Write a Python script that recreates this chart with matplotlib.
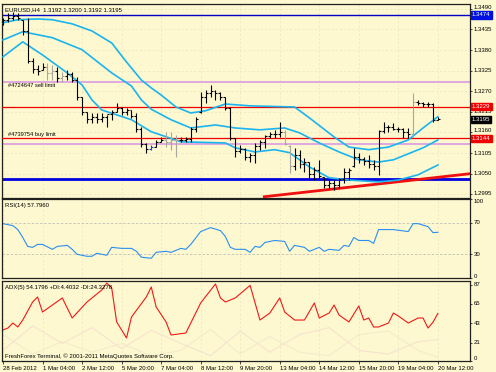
import numpy as np
import matplotlib.pyplot as plt
from matplotlib.transforms import blended_transform_factory, offset_copy

plt.rcParams['font.family'] = ['Liberation Sans', 'DejaVu Sans']

# EURUSD H4 bars, bar 0 = 28 Feb 2012 20:00, one bar every 4 hours
highs = [1.3466, 1.3479, 1.3482, 1.3479, 1.3461, 1.3466, 1.3359, 1.3340, 1.3346, 1.3346,
         1.3340, 1.3335, 1.3322, 1.3327, 1.3322, 1.3308, 1.3255, 1.3215, 1.3212, 1.3212,
         1.3212, 1.3207, 1.3220, 1.3239, 1.3228, 1.3226, 1.3220, 1.3212, 1.3175, 1.3132,
         1.3127, 1.3140, 1.3148, 1.3162, 1.3162, 1.3154, 1.3148, 1.3148, 1.3175, 1.3202,
         1.3268, 1.3274, 1.3287, 1.3274, 1.3268, 1.3255, 1.3228, 1.3146, 1.3127, 1.3119,
         1.3106, 1.3132, 1.3140, 1.3154, 1.3162, 1.3167, 1.3188, 1.3167, 1.3127, 1.3119,
         1.3114, 1.3092, 1.3081, 1.3068, 1.3087, 1.3041, 1.3033, 1.3033, 1.3039, 1.3065,
         1.3065, 1.3119, 1.3106, 1.3095, 1.3100, 1.3087, 1.3167, 1.3188, 1.3180, 1.3186,
         1.3175, 1.3172, 1.3172, 1.3266, 1.3247, 1.3242, 1.3242, 1.3239, 1.3200]
lows = [1.3447, 1.3455, 1.3461, 1.3461, 1.3421, 1.3346, 1.3319, 1.3314, 1.3327, 1.3300,
        1.3300, 1.3295, 1.3295, 1.3300, 1.3295, 1.3247, 1.3207, 1.3186, 1.3186, 1.3186,
        1.3188, 1.3175, 1.3194, 1.3215, 1.3207, 1.3207, 1.3199, 1.3162, 1.3121, 1.3106,
        1.3114, 1.3121, 1.3135, 1.3121, 1.3114, 1.3095, 1.3135, 1.3135, 1.3135, 1.3162,
        1.3212, 1.3239, 1.3255, 1.3247, 1.3247, 1.3220, 1.3140, 1.3095, 1.3106, 1.3087,
        1.3081, 1.3079, 1.3114, 1.3119, 1.3146, 1.3146, 1.3148, 1.3127, 1.3052, 1.3060,
        1.3065, 1.3055, 1.3039, 1.3033, 1.3039, 1.3012, 1.3012, 1.3007, 1.3012, 1.3025,
        1.3033, 1.3068, 1.3079, 1.3073, 1.3065, 1.3060, 1.3047, 1.3159, 1.3162, 1.3167,
        1.3162, 1.3146, 1.3146, 1.3148, 1.3234, 1.3228, 1.3228, 1.3188, 1.3192]
opens = [1.3455, 1.3460, 1.3465, 1.3470, 1.3460, 1.3430, 1.3350, 1.3330, 1.3328, 1.3335,
         1.3320, 1.3325, 1.3305, 1.3310, 1.3315, 1.3300, 1.3255, 1.3215, 1.3195, 1.3200,
         1.3195, 1.3200, 1.3210, 1.3215, 1.3225, 1.3215, 1.3220, 1.3205, 1.3170, 1.3130,
         1.3115, 1.3122, 1.3135, 1.3140, 1.3135, 1.3140, 1.3140, 1.3140, 1.3142, 1.3170,
         1.3215, 1.3255, 1.3265, 1.3270, 1.3265, 1.3255, 1.3225, 1.3145, 1.3110, 1.3115,
         1.3095, 1.3100, 1.3125, 1.3135, 1.3150, 1.3155, 1.3155, 1.3160, 1.3125, 1.3070,
         1.3100, 1.3075, 1.3080, 1.3050, 1.3060, 1.3040, 1.3020, 1.3025, 1.3020, 1.3035,
         1.3055, 1.3070, 1.3095, 1.3090, 1.3085, 1.3075, 1.3070, 1.3165, 1.3175, 1.3175,
         1.3170, 1.3168, 1.3160, 1.3155, 1.3240, 1.3238, 1.3235, 1.3235, 1.3192]
closes = [1.3460, 1.3465, 1.3470, 1.3465, 1.3430, 1.3350, 1.3330, 1.3325, 1.3335, 1.3320,
          1.3325, 1.3305, 1.3310, 1.3315, 1.3300, 1.3255, 1.3215, 1.3195, 1.3200, 1.3195,
          1.3200, 1.3210, 1.3215, 1.3225, 1.3215, 1.3220, 1.3205, 1.3170, 1.3130, 1.3115,
          1.3120, 1.3135, 1.3140, 1.3135, 1.3140, 1.3140, 1.3140, 1.3142, 1.3170, 1.3195,
          1.3255, 1.3265, 1.3270, 1.3265, 1.3255, 1.3225, 1.3145, 1.3110, 1.3115, 1.3095,
          1.3100, 1.3125, 1.3135, 1.3150, 1.3155, 1.3155, 1.3160, 1.3130, 1.3070, 1.3100,
          1.3075, 1.3080, 1.3050, 1.3060, 1.3045, 1.3020, 1.3025, 1.3020, 1.3035, 1.3055,
          1.3060, 1.3095, 1.3090, 1.3085, 1.3075, 1.3070, 1.3165, 1.3175, 1.3175, 1.3170,
          1.3168, 1.3160, 1.3155, 1.3240, 1.3238, 1.3235, 1.3235, 1.3192, 1.3195]
grey_bars = [9, 10, 12, 33, 34, 35, 57, 58, 83]
blue_bars = [30]

# channel lines (bar index, price)
upper_idx = [0, 3, 7, 10, 14, 18, 22, 25, 28, 30, 32, 35, 38, 41, 45, 50, 59, 62, 67, 70, 74, 78, 82, 85, 88]
upper_val = [1.3453, 1.3461, 1.3463, 1.3461, 1.3450, 1.3431, 1.3399, 1.3348, 1.3300, 1.3279,
             1.3260, 1.3228, 1.3212, 1.3218, 1.3236, 1.3231, 1.3228, 1.3199, 1.3148, 1.3121,
             1.3114, 1.3121, 1.3140, 1.3172, 1.3202]
mid_idx = [0, 4, 10, 16, 22, 26, 28, 30, 34, 38, 43, 47, 52, 57, 60, 64, 68, 72, 76, 79, 82, 85, 88]
mid_val = [1.3407, 1.3429, 1.3413, 1.3381, 1.3319, 1.3284, 1.3247, 1.3222, 1.3194, 1.3172,
           1.3180, 1.3172, 1.3167, 1.3172, 1.3159, 1.3132, 1.3108, 1.3087, 1.3081, 1.3087,
           1.3103, 1.3119, 1.3140]
lower_idx = [0, 4, 8, 13, 16, 18, 20, 23, 26, 30, 36, 45, 47, 51, 55, 58, 62, 66, 70, 76, 80, 84, 88]
lower_val = [1.3362, 1.3402, 1.3367, 1.3319, 1.3287, 1.3247, 1.3220, 1.3207, 1.3194, 1.3162,
             1.3135, 1.3132, 1.3119, 1.3108, 1.3114, 1.3106, 1.3068, 1.3039, 1.3033, 1.3028,
             1.3033, 1.3047, 1.3073]

# horizontal levels and trend line
blue_top = 1.3474
blue_bottom = 1.3036
red_levels = [1.3229, 1.3144]
pink_levels = [1.3295, 1.3129]
trend_idx = [52.6, 94.6]
trend_val = [1.2988, 1.3050]
last_price = 1.3195

# RSI(14)
rsi_idx = [0, 2, 3, 4, 5, 6, 7, 8, 10, 11, 13, 14, 15, 17, 18, 19, 20, 21, 22, 24,
           26, 27, 28, 30, 31, 33, 34, 36, 37, 38, 40, 42, 44, 45, 46, 47, 49, 50, 51, 52,
           53, 55, 57, 58, 59, 61, 62, 64, 65, 66, 68, 69, 70, 71, 72, 74, 75, 76, 77, 79,
           82, 83, 84, 86, 87, 88]
rsi_val = [68.8, 66.3, 61.3, 51.3, 40, 38.8, 42.5, 42.5, 36.3, 40, 41.3, 36.3, 30, 27.5, 27.5,
           31.3, 30, 28.8, 38.8, 37.5, 37.5, 33.8, 26.3, 25, 32.5, 33.8, 32.5, 37.5, 36.3, 42.5,
           58.8, 63.8, 60, 52.5, 38.8, 36.3, 36.3, 32.5, 40, 38.8, 45, 47.5, 46.3, 33.8, 41.3,
           38.8, 33.8, 38.8, 33.8, 36.3, 35, 41.3, 40, 51.3, 47.5, 47.5, 43.8, 61.3, 61.3, 61.3,
           58.8, 68.8, 68.8, 65, 57.5, 57.8]

# ADX(5)
adx_idx = [0, 1, 2, 3, 4, 6, 7, 8, 10, 12, 14, 17, 20, 21, 22, 23, 25, 26, 29, 30,
           31, 33, 34, 37, 40, 43, 44, 45, 47, 50, 52, 54, 56, 57, 59, 61, 63, 64, 66, 67,
           68, 70, 72, 73, 74, 75, 76, 78, 79, 80, 82, 84, 85, 86, 87, 88]
adx_val = [35.3, 37.5, 43.2, 38.7, 46.6, 67.1, 72.8, 55.7, 63.7, 71.7, 48.9, 67.1, 80.8, 88.7,
           83.0, 44.4, 26.2, 50.0, 72.8, 84.2, 61.4, 44.4, 29.6, 31.8, 66.0, 87.6, 71.7, 67.1,
           71.7, 86.0, 46.6, 54.6, 71.7, 55.7, 46.6, 46.6, 66.0, 48.9, 54.6, 63.7, 52.3, 44.4,
           62.6, 46.6, 48.9, 38.7, 38.7, 43.2, 54.6, 51.2, 43.2, 48.9, 48.9, 37.5, 44.0, 54.2]
di_idx = [0, 6, 12, 18, 24, 30, 36, 42, 48, 54, 60, 66, 72, 78, 84, 88]
plus_di = [30, 8, 22, 10, 20, 6, 12, 36, 8, 28, 10, 6, 30, 34, 12, 4.4]
minus_di = [12, 40, 20, 38, 14, 35, 20, 6, 34, 10, 30, 38, 12, 8, 22, 24.3]

date_idx = [0, 8, 16, 24, 32, 40, 48, 56, 64, 72, 80, 88]
date_labels = ['28 Feb 2012', '1 Mar 04:00', '2 Mar 12:00', '5 Mar 20:00', '7 Mar 04:00',
               '8 Mar 12:00', '9 Mar 20:00', '13 Mar 04:00', '14 Mar 12:00', '15 Mar 20:00',
               '19 Mar 04:00', '20 Mar 12:00']
price_ticks = [1.3490, 1.3435, 1.3380, 1.3325, 1.3270, 1.3215, 1.3160, 1.3105, 1.3050, 1.2995]
rsi_ticks = [0, 30, 70, 100]
adx_ticks = [0, 21, 43, 65, 87]

bg = '#fdf8cf'
band_color = '#1ab4ee'
fs = 4.3

W, H = 496, 372
fig = plt.figure(figsize=(W / 100, H / 100), dpi=100)
fig.patch.set_facecolor(bg)


def panel(top, bottom):
    a = fig.add_axes([2 / W, 1 - bottom / H, 468 / W, (bottom - top) / H])
    a.set_facecolor(bg)
    a.set_xlim(-0.2, 94.5)
    for s in a.spines.values():
        s.set_color('#202020')
        s.set_linewidth(0.9)
    a.yaxis.tick_right()
    a.tick_params(axis='y', length=1.5, width=0.5, labelright=False)
    a.set_xticks(date_idx)
    a.tick_params(axis='x', length=0)
    a.set_xticklabels([])
    a.grid(True, color='#ebe3bd', linestyle=(0, (3, 3)), linewidth=0.5)
    a.set_axisbelow(True)
    return a


def right_labels(a, ticks, fmt, nudge=None):
    # axis labels drawn by hand so a few can be nudged away from the price tags
    a.set_yticks(ticks)
    tr = blended_transform_factory(a.transAxes, a.transData)
    for t in ticks:
        dy = (nudge or {}).get(t, 0)
        a.text(1.008, t, fmt % t, fontsize=fs, va='center', ha='left', clip_on=False,
               transform=offset_copy(tr, fig=fig, y=dy, units='dots'))


ax = panel(4, 198)
ax_rsi = panel(199, 278)
ax_adx = panel(281, 361)

# ---- main price panel
ax.set_ylim(1.2985, 1.3503)
right_labels(ax, price_ticks, '%.4f', {1.3490: 1.5, 1.3160: 1.5, 1.2995: 1})

ax.axhline(blue_top, color='#0000c8', lw=1.0, zorder=2)
ax.axhline(blue_bottom, color='#0000e0', lw=2.0, zorder=2)
for lv in pink_levels:
    ax.axhline(lv, color='#e0a8e0', lw=1.4, zorder=2)
for lv in red_levels:
    ax.axhline(lv, color='#f00000', lw=0.9, zorder=3)
ax.plot(trend_idx, trend_val, color='#f01010', lw=2.0, zorder=3, solid_capstyle='butt')

ax.plot(upper_idx, upper_val, color=band_color, lw=1.2, zorder=4)
ax.plot(mid_idx, mid_val, color=band_color, lw=1.2, zorder=4)
ax.plot(lower_idx, lower_val, color=band_color, lw=1.2, zorder=4)

x = np.arange(len(highs))
cols = ['black'] * len(x)
for i in grey_bars:
    cols[i] = '#a8a8a0'
for i in blue_bars:
    cols[i] = '#2040e0'
ax.vlines(x, lows, highs, colors=cols, lw=0.8, zorder=5)
ax.hlines(opens, x - 0.4, x, colors=cols, lw=0.8, zorder=5)
ax.hlines(closes, x, x + 0.4, colors=cols, lw=0.8, zorder=5)

ax.text(0.006, 0.985, 'EURUSD,H4  1.3192 1.3200 1.3192 1.3195', transform=ax.transAxes,
        fontsize=fs, va='top', ha='left')
ax.text(1.0, pink_levels[0] - 0.0003, '#4724647 sell limit', fontsize=fs * 0.95, va='top', ha='left')
ax.text(1.0, red_levels[1] + 0.0003, '#4739754 buy limit', fontsize=fs * 0.95, va='bottom', ha='left')

tr = blended_transform_factory(ax.transAxes, ax.transData)
tags = [(blue_top, '#0010e0'), (red_levels[0], '#f00000'), (last_price, 'black'), (red_levels[1], '#f00000')]
for val, c in tags:
    ax.text(1.004, val, '%.4f' % val, transform=tr, fontsize=fs, color='white', va='center', ha='left',
            bbox=dict(boxstyle='square,pad=0.2', fc=c, ec=c), zorder=10, clip_on=False)

# ---- RSI panel
ax_rsi.set_ylim(0, 100)
right_labels(ax_rsi, rsi_ticks, '%d', {100: -2.5, 0: 2})
ax_rsi.grid(False, axis='y')
for lv in [30, 70]:
    ax_rsi.axhline(lv, color='#c0c0b8', lw=0.6, linestyle=(0, (3, 2)))
ax_rsi.plot(rsi_idx, rsi_val, color='#2a8ff0', lw=0.8)
ax_rsi.text(0.006, 0.95, 'RSI(14) 57.7960', transform=ax_rsi.transAxes, fontsize=fs, va='top', ha='left')

# ---- ADX panel
ax_adx.set_ylim(0, 91)
right_labels(ax_adx, adx_ticks, '%d', {0: 3})
ax_adx.grid(False, axis='y')
ax_adx.plot(di_idx, plus_di, color='#f5ebcc', lw=0.8)
ax_adx.plot(di_idx, minus_di, color='#f7e2cf', lw=0.8)
ax_adx.plot(adx_idx, adx_val, color='#f01818', lw=0.8)
ax_adx.text(0.006, 0.95, 'ADX(5) 54.1796 +DI:4.4032 -DI:24.3278', transform=ax_adx.transAxes,
            fontsize=fs, va='top', ha='left')
ax_adx.text(0.006, 0.03, 'FreshForex Terminal, \u00a9 2001-2011 MetaQuotes Software Corp.',
            transform=ax_adx.transAxes, fontsize=fs, va='bottom', ha='left')

ax_adx.tick_params(axis='x', length=2, width=0.5, direction='out', pad=1.5, labelsize=fs)
ax_adx.set_xticklabels(date_labels, ha='left')

fig.savefig('out.png', dpi=100, facecolor=bg)
